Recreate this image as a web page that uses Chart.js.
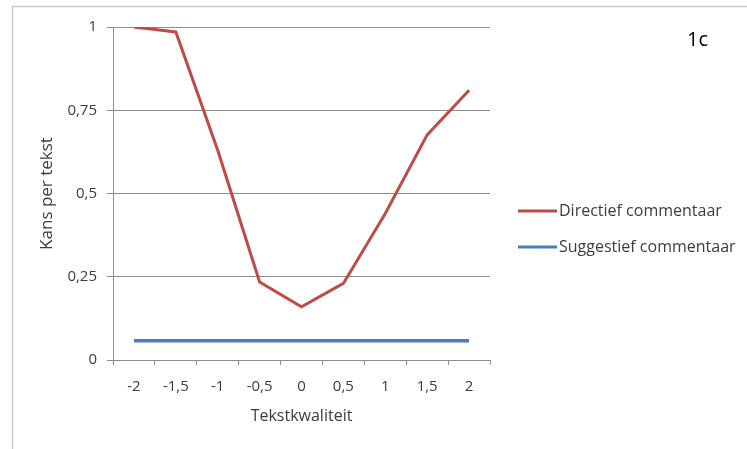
<!DOCTYPE html>
<html>
<head>
<meta charset="utf-8">
<script src="https://cdn.jsdelivr.net/npm/chart.js@4"></script>
<style>
  html, body { margin: 0; padding: 0; background: #fff; }
  #wrap { width: 747px; height: 449px; }
</style>
</head>
<body>
<div id="wrap"><canvas id="chart" width="747" height="449"></canvas></div>
<script>
// --- data ---
const categories = ['-2', '-1,5', '-1', '-0,5', '0', '0,5', '1', '1,5', '2'];
const directief = [1.0, 0.985, 0.63, 0.234, 0.16, 0.23, 0.44, 0.676, 0.81];
const suggestief = [0.058, 0.058, 0.058, 0.058, 0.058, 0.058, 0.058, 0.058, 0.058];
const yTickValues = [0, 0.25, 0.5, 0.75, 1];
const yTickLabels = ['0', '0,25', '0,5', '0,75', '1'];

const RED = '#be4b48';
const BLUE = '#4a7ebb';
const TEXT = '#3c3c3c';
const FONT = 'Open Sans';

// frame, legend and panel label, drawn after the chart
const decorations = {
    id: 'decorations',
    afterDraw(chart) {
        const ctx = chart.ctx;
        ctx.save();
        // outer frame (only top and left edges are visible)
        ctx.strokeStyle = '#c8c8c8';
        ctx.lineWidth = 1.5;
        ctx.beginPath();
        ctx.moveTo(12.5, 449);
        ctx.lineTo(12.5, 6.5);
        ctx.lineTo(747, 6.5);
        ctx.stroke();

        // legend
        const rows = chart.data.datasets;
        rows.forEach((ds, i) => {
            const y = 211 + i * 36;
            ctx.strokeStyle = ds.borderColor;
            ctx.lineWidth = 3;
            ctx.beginPath();
            ctx.moveTo(518, y);
            ctx.lineTo(557, y);
            ctx.stroke();
            ctx.fillStyle = TEXT;
            ctx.font = '16px "' + FONT + '"';
            ctx.textBaseline = 'middle';
            ctx.textAlign = 'left';
            ctx.fillText(ds.label, 559, y);
        });

        // panel label
        ctx.fillStyle = '#000';
        ctx.font = '20px "' + FONT + '"';
        ctx.textBaseline = 'middle';
        ctx.fillText('1c', 687, 40);
        ctx.restore();
    }
};

new Chart(document.getElementById('chart'), {
    type: 'line',
    data: {
        labels: categories,
        datasets: [
            {
                label: 'Directief commentaar',
                data: directief,
                borderColor: RED,
                borderWidth: 3,
                pointRadius: 0,
                tension: 0
            },
            {
                label: 'Suggestief commentaar',
                data: suggestief,
                borderColor: BLUE,
                borderWidth: 3.5,
                pointRadius: 0,
                tension: 0
            }
        ]
    },
    options: {
        responsive: false,
        animation: false,
        layout: { padding: { left: 0, top: 27, right: 257, bottom: 0 } },
        plugins: { legend: { display: false }, tooltip: { enabled: false } },
        scales: {
            x: {
                offset: true,
                grid: { offset: true, drawOnChartArea: false, tickLength: 5, color: '#8c8c8c', lineWidth: 1 },
                border: { color: '#8c8c8c', width: 1 },
                ticks: { color: TEXT, font: { family: FONT, size: 15 }, padding: 13, maxRotation: 0 },
                title: { display: true, text: 'Tekstkwaliteit', color: TEXT, font: { family: FONT, size: 16 }, padding: { bottom: 23, top: 0 } },
                afterFit(scale) { scale.height = 89; }
            },
            y: {
                min: 0,
                max: 1,
                afterBuildTicks(scale) { scale.ticks = yTickValues.map(v => ({ value: v })); },
                grid: { color: '#8c8c8c', lineWidth: 1, tickLength: 6 },
                border: { color: '#8c8c8c', width: 1 },
                ticks: {
                    color: TEXT,
                    font: { family: FONT, size: 15 },
                    padding: 10,
                    callback: (v) => yTickLabels[yTickValues.indexOf(v)]
                },
                title: { display: true, text: 'Kans per tekst', color: TEXT, font: { family: FONT, size: 17 }, padding: { top: 37, bottom: 0 } },
                afterFit(scale) { scale.width = 113; }
            }
        }
    },
    plugins: [decorations]
});
</script>
</body>
</html>
